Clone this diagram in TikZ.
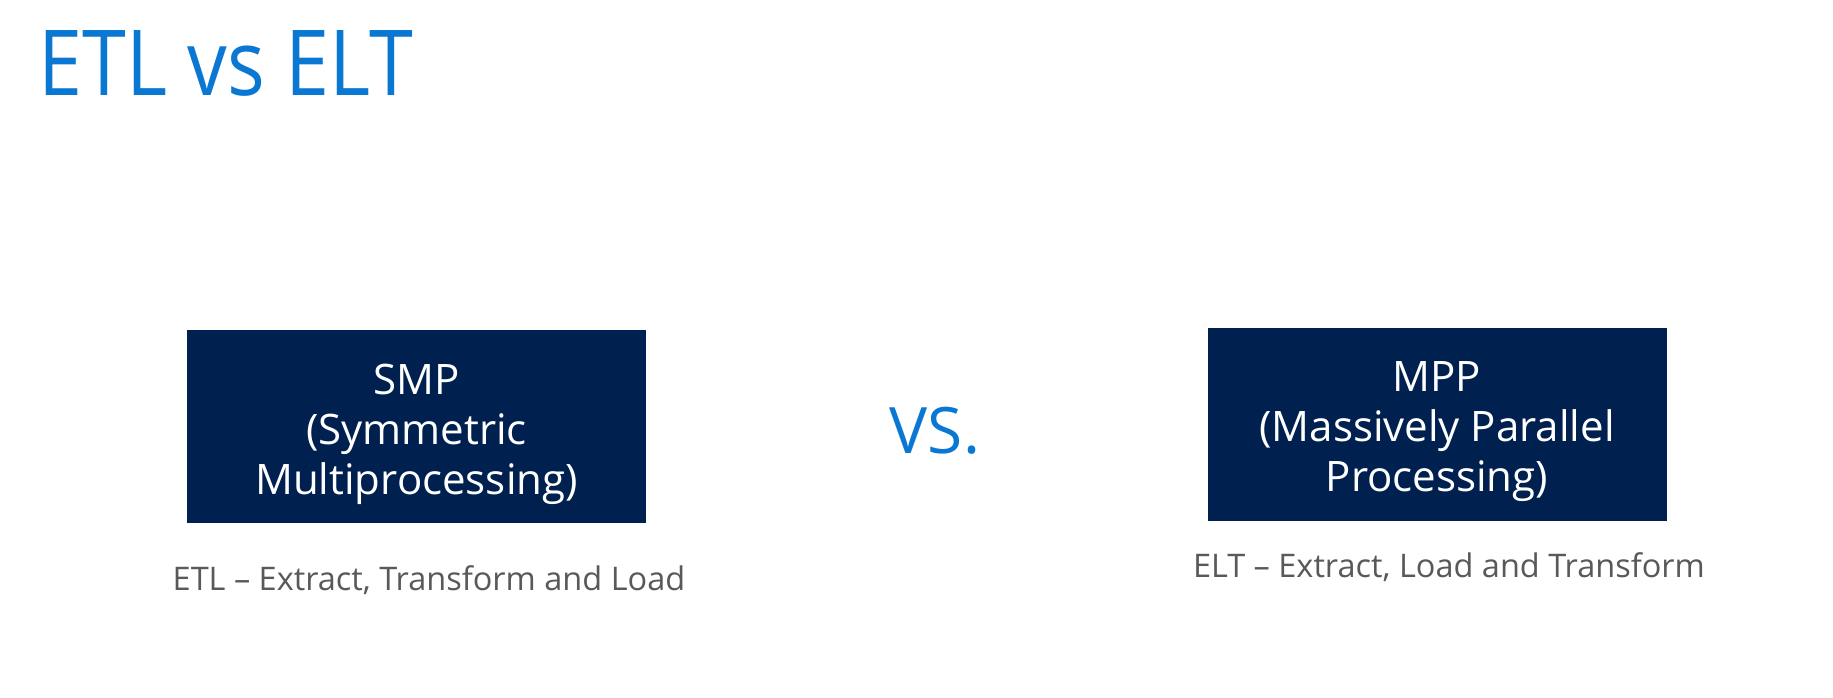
\documentclass[tikz,border=0pt]{standalone}
\usepackage{fontspec}
\setmainfont{Open Sans}
\definecolor{navy}{HTML}{002050}
\definecolor{msblue}{HTML}{0A78D2}
\definecolor{capgray}{HTML}{595959}
\tikzset{
  titletext/.style={text=msblue, inner sep=0pt, font=\fontsize{91}{100}\selectfont},
  vstext/.style={text=msblue, inner sep=0pt, font=\fontsize{64}{70}\selectfont},
  navybox/.style={fill=navy, draw=none, minimum width=459pt, minimum height=193pt, inner sep=0pt},
  boxtext/.style={text=white, align=center, inner sep=0pt, font=\fontsize{42}{50}\selectfont},
  captext/.style={text=capgray, inner sep=0pt, font=\fontsize{32.5}{38}\selectfont}
}
\begin{document}
\begin{tikzpicture}[x=1pt,y=-1pt]
\useasboundingbox (0,0) rectangle (1833,697);
\fill[white] (0,0) rectangle (1833,697);
\node[titletext, anchor=base west] (title) at (38,95) {\scalebox{0.87}[1]{ETL vs ELT}};
\node[navybox] (smp) at (416.5,426.5) {};
\node[boxtext] (smpt) at ([yshift=-8pt]smp.center) {SMP\\(Symmetric\\Multiprocessing)};
\node[navybox] (mpp) at (1437,424) {};
\node[boxtext] (mppt) at ([yshift=-8pt]mpp.center) {MPP\\(Massively Parallel\\Processing)};
\node[vstext, anchor=base] (vs) at (935,453) {VS.};
\node[captext, anchor=base] (etl) at (429,590) {ETL – Extract, Transform and Load};
\node[captext, anchor=base] (elt) at (1449,577) {ELT – Extract, Load and Transform};
\end{tikzpicture}
\end{document}
